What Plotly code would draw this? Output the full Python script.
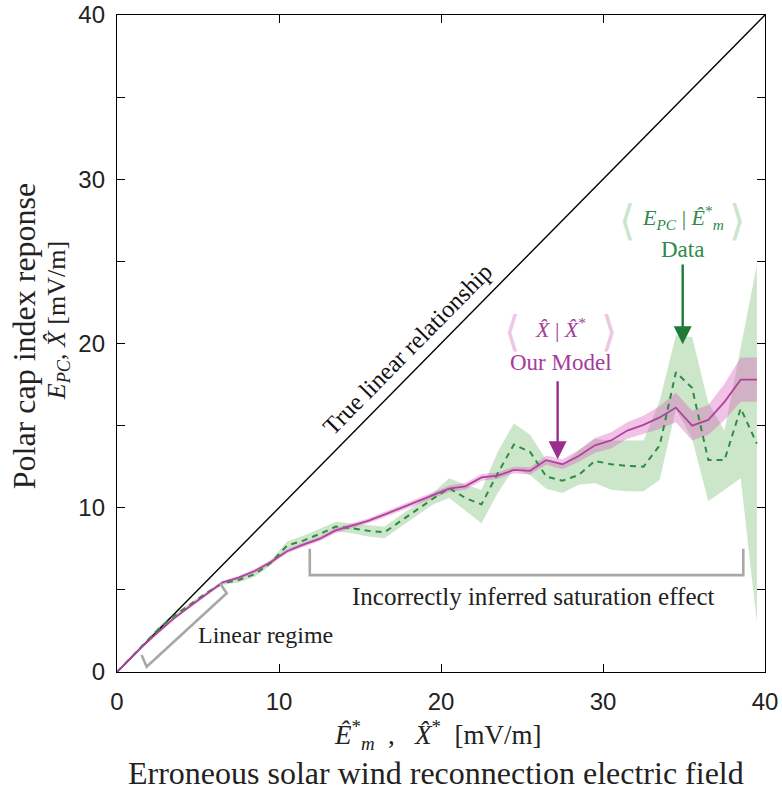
import plotly.graph_objects as go

# ---------------- data ----------------
x_bins = [0, 0.5, 1.5, 2.5, 3.5, 4.5, 5.5, 6.5, 7.5, 8.5, 9.5, 10.5, 11.5, 12.5, 13.5,
          14.5, 15.5, 16.5, 17.5, 18.5, 19.5, 20.5, 21.5, 22.5, 23.5, 24.5, 25.5, 26.5,
          27.5, 28.5, 29.5, 30.5, 31.5, 32.5, 33.5, 34.5, 35.5, 36.5, 37.5, 38.5, 39.5]

model_mean = [0, 0.5, 1.5, 2.4, 3.25, 4.0, 4.72, 5.45, 5.75, 6.15, 6.7, 7.35, 7.75, 8.1,
              8.62, 8.9, 9.2, 9.58, 9.97, 10.37, 10.77, 11.16, 11.3, 11.85, 11.95, 12.3,
              12.25, 12.9, 12.65, 13.15, 13.8, 14.1, 14.7, 15.05, 15.5, 16.1, 15.0, 15.35,
              16.45, 17.8, 17.8]
model_err = [0, 0.08, 0.08, 0.1, 0.1, 0.1, 0.1, 0.1, 0.1, 0.12, 0.12, 0.12, 0.14, 0.14,
             0.15, 0.15, 0.15, 0.16, 0.16, 0.18, 0.18, 0.2, 0.2, 0.2, 0.2, 0.2, 0.22, 0.28,
             0.3, 0.35, 0.45, 0.5, 0.5, 0.55, 0.7, 0.9, 0.9, 0.9, 1.1, 1.35, 1.35]

data_mean = [0, 0.5, 1.5, 2.55, 3.4, 4.1, 4.8, 5.4, 5.6, 5.95, 6.65, 7.7, 8.0, 8.4, 8.85,
             8.75, 8.6, 8.5, 9.2, 9.9, 10.55, 11.2, 10.6, 10.2, 12.1, 13.85, 13.4, 11.9,
             11.65, 12.0, 12.85, 12.65, 12.55, 12.5, 13.8, 18.25, 17.3, 12.9, 12.9, 16.05,
             13.9]
data_upper = [0, 0.6, 1.6, 2.7, 3.55, 4.2, 4.9, 5.5, 5.75, 6.1, 6.8, 7.95, 8.3, 8.7, 9.15,
              9.05, 8.95, 8.85, 9.55, 10.25, 10.9, 11.8, 11.4, 11.1, 13.4, 15.15, 14.45,
              12.9, 12.6, 13.5, 14.2, 14.1, 14.1, 14.1, 16.5, 20.5, 20.4, 16.4, 14.7, 19.8,
              24.8]
data_lower = [0, 0.4, 1.4, 2.4, 3.25, 4.0, 4.7, 5.3, 5.45, 5.8, 6.5, 7.45, 7.7, 8.1, 8.55,
              8.45, 8.25, 8.15, 8.85, 9.55, 10.2, 10.6, 9.8, 9.05, 10.9, 12.4, 12.0, 11.15,
              10.9, 11.4, 11.5, 11.1, 11.0, 11.0, 11.7, 16.0, 14.2, 10.4, 11.1, 11.8, 3.0]

identity_x = [0, 40]
identity_y = [0, 40]

linear_bracket_x = [1.52, 1.83, 6.77, 6.36]
linear_bracket_y = [1.04, 0.32, 4.79, 5.40]
sat_bracket_x = [11.9, 11.9, 38.66, 38.66]
sat_bracket_y = [7.5, 5.9, 5.9, 7.5]

x_ticks = [0, 10, 20, 30, 40]
y_ticks = [0, 10, 20, 30, 40]

# ---------------- styles ----------------
MAG = "#b0429e"
MAG_TXT = "#a53a9a"
MAG_ARROW = "#9a2d8e"
MAG_BAND = "rgba(218,95,190,0.38)"
GRN = "#2f8c42"
GRN_TXT = "#2e8a4a"
GRN_ARROW = "#1e7a34"
GRN_BAND = "rgba(100,180,90,0.33)"
GRAY = "#a8a8a8"
SERIF = "Liberation Serif, Times New Roman, serif"
SANS = "Liberation Sans, Arial, sans-serif"
BRACKET_FONT = "Noto Sans CJK SC, DejaVu Sans"

fig = go.Figure()

# green data band
fig.add_trace(go.Scatter(x=x_bins, y=data_upper, mode="lines", line=dict(width=0),
                         hoverinfo="skip"))
fig.add_trace(go.Scatter(x=x_bins, y=data_lower, mode="lines", line=dict(width=0),
                         fill="tonexty", fillcolor=GRN_BAND, hoverinfo="skip"))
# model band
m_up = [m + e for m, e in zip(model_mean, model_err)]
m_lo = [m - e for m, e in zip(model_mean, model_err)]
fig.add_trace(go.Scatter(x=x_bins, y=m_up, mode="lines", line=dict(width=0),
                         hoverinfo="skip"))
fig.add_trace(go.Scatter(x=x_bins, y=m_lo, mode="lines", line=dict(width=0),
                         fill="tonexty", fillcolor=MAG_BAND, hoverinfo="skip"))
# identity line
fig.add_trace(go.Scatter(x=identity_x, y=identity_y, mode="lines",
                         line=dict(color="black", width=1.4)))
# data mean (dashed)
fig.add_trace(go.Scatter(x=x_bins, y=data_mean, mode="lines",
                         line=dict(color=GRN, width=2, dash="6px,5px")))
# model mean
fig.add_trace(go.Scatter(x=x_bins, y=model_mean, mode="lines",
                         line=dict(color=MAG, width=1.8)))
# brackets
fig.add_trace(go.Scatter(x=linear_bracket_x, y=linear_bracket_y, mode="lines",
                         line=dict(color=GRAY, width=2.6)))
fig.add_trace(go.Scatter(x=sat_bracket_x, y=sat_bracket_y, mode="lines",
                         line=dict(color=GRAY, width=2.6)))

ann = []
ann.append(dict(x=9.14, y=2.25, text="Linear regime", showarrow=False,
                font=dict(family=SERIF, size=24, color="#222")))
ann.append(dict(x=25.7, y=4.57, text="Incorrectly inferred saturation effect",
                showarrow=False, font=dict(family=SERIF, size=25, color="#222")))
ann.append(dict(x=17.96, y=19.67, text="True linear relationship", showarrow=False,
                textangle=-45.4, font=dict(family=SERIF, size=24.5, color="#111")))
# model label + arrow
ann.append(dict(x=27.2, y=12.95, ax=27.2, ay=17.8, xref="x", yref="y", axref="x",
                ayref="y", showarrow=True, arrowhead=2, arrowsize=1.5, arrowwidth=2.4,
                arrowcolor=MAG_ARROW, text=""))
ann.append(dict(x=27.4, y=18.85, text="Our Model", showarrow=False,
                font=dict(family=SERIF, size=23, color=MAG_TXT)))
ann.append(dict(x=27.4, y=20.95,
                text="<i>X\u0302</i> | <i>X\u0302</i><sup>*</sup>", showarrow=False,
                font=dict(family=SERIF, size=22, color=MAG_TXT)))
ann.append(dict(x=24.4, y=21.0, text="\u27e8", showarrow=False,
                font=dict(family=BRACKET_FONT, size=42, color="#ecc8e6")))
ann.append(dict(x=30.4, y=21.0, text="\u27e9", showarrow=False,
                font=dict(family=BRACKET_FONT, size=42, color="#ecc8e6")))
# data label + arrow
ann.append(dict(x=34.92, y=19.95, ax=34.92, ay=24.9, xref="x", yref="y", axref="x",
                ayref="y", showarrow=True, arrowhead=2, arrowsize=1.5, arrowwidth=2.4,
                arrowcolor=GRN_ARROW, text=""))
ann.append(dict(x=34.92, y=25.75, text="Data", showarrow=False,
                font=dict(family=SERIF, size=23, color=GRN_TXT)))
ann.append(dict(x=34.92, y=27.7,
                text="<i>E</i><sub><i>PC</i></sub> | <i>Ê</i><sup>*</sup><sub><i>m</i></sub>",
                showarrow=False, font=dict(family=SERIF, size=22, color=GRN_TXT)))
ann.append(dict(x=31.5, y=27.75, text="\u27e8", showarrow=False,
                font=dict(family=BRACKET_FONT, size=42, color="#cbe5cd")))
ann.append(dict(x=38.3, y=27.75, text="\u27e9", showarrow=False,
                font=dict(family=BRACKET_FONT, size=42, color="#cbe5cd")))

# axis titles
ann.append(dict(xref="paper", yref="paper", x=0.496, y=-0.0965, xanchor="center",
                yanchor="middle",
                text="<i>Ê</i><sup>*</sup><sub><i>m</i></sub>  ,   <i>X\u0302</i><sup>*</sup>  [mV/m]",
                showarrow=False, font=dict(family=SERIF, size=27, color="#222")))
ann.append(dict(xref="paper", yref="paper", x=0.493, y=-0.154, xanchor="center",
                yanchor="middle",
                text="Erroneous solar wind reconnection electric field",
                showarrow=False, font=dict(family=SERIF, size=32, color="#222")))
ann.append(dict(xref="paper", yref="paper", x=-0.1435, y=0.511, textangle=-90,
                xanchor="center", yanchor="middle",
                text="Polar cap index reponse", showarrow=False,
                font=dict(family=SERIF, size=32, color="#222")))
ann.append(dict(xref="paper", yref="paper", x=-0.091, y=0.534, textangle=-90,
                xanchor="center", yanchor="middle",
                text="<i>E</i><sub><i>PC</i></sub>, <i>X\u0302</i> [mV/m]", showarrow=False,
                font=dict(family=SERIF, size=26, color="#222")))

axis_common = dict(range=[0, 40], showgrid=False, zeroline=False, showline=True,
                   linecolor="black", linewidth=1.4, mirror="ticks", ticks="inside",
                   ticklen=8, tickwidth=1.2, tickcolor="black", automargin=False,
                   tickfont=dict(family=SANS, size=24, color="#222"))

fig.update_layout(
    width=782, height=790,
    margin=dict(l=117, r=17, t=15, b=118, autoexpand=False),
    plot_bgcolor="white", paper_bgcolor="white",
    showlegend=False,
    annotations=ann,
    xaxis=dict(**axis_common, tickvals=x_ticks, ticklabelstandoff=8),
    yaxis=dict(**axis_common, tickvals=y_ticks, ticklabelstandoff=6,
               minor=dict(dtick=5, ticks="inside", ticklen=8, tickcolor="black",
                          tickwidth=1.2)),
)

fig.write_html("out.html", config={"displayModeBar": False},
               post_script="document.body.style.margin='0';document.body.style.padding='0';")
